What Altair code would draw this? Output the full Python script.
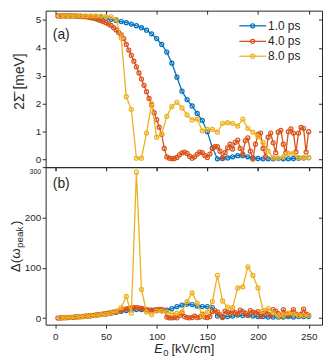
import altair as alt
import pandas as pd

# ---------------- data ----------------
E_STEP5 = [5 * i for i in range(1, 51)]          # 5 ... 250 kV/cm
E_STEP25 = [2.5 * i for i in range(1, 101)]      # 2.5 ... 250 kV/cm

SERIES_LABELS = ["1.0 ps", "4.0 ps", "8.0 ps"]
SERIES_COLORS = ["#0072BD", "#D95319", "#EDB120"]

# panel (a): 2*Sigma [meV]
GAP_1PS = [5.14, 5.14, 5.14, 5.14, 5.13, 5.12, 5.11, 5.10, 5.08, 5.06,
           5.02, 4.98, 4.94, 4.90, 4.85, 4.79, 4.72, 4.63, 4.50, 4.33,
           4.12, 3.85, 3.45, 2.95, 2.45, 2.15, 1.92, 1.65, 1.40, 1.00,
           0.42, 0.03, 0.04, 0.06, 0.10, 0.14, 0.14, 0.10, 0.06, 0.04,
           0.03, 0.03, 0.03, 0.04, 0.03, 0.03, 0.04, 0.05, 0.06, 0.07]

GAP_4PS = [5.14, 5.14, 5.14, 5.14, 5.14, 5.14, 5.14, 5.13, 5.13, 5.12,
           5.12, 5.11, 5.10, 5.08, 5.06, 5.04, 5.00, 4.97, 4.94, 4.90,
           4.85, 4.80, 4.72, 4.64, 4.55, 4.46, 4.33, 4.12, 3.92, 3.73,
           3.52, 3.32, 3.10, 2.88, 2.66, 2.43, 2.19, 1.95, 1.68, 1.43,
           1.16, 0.90, 0.40, 0.10, 0.05, 0.03, 0.04, 0.08, 0.17, 0.24,
           0.27, 0.22, 0.12, 0.05, 0.10, 0.20, 0.27, 0.25, 0.15, 0.08,
           0.20, 0.40, 0.46, 0.46, 0.30, 0.06, 0.25, 0.42, 0.55, 0.38,
           0.62, 0.70, 0.40, 0.20, 0.68, 0.78, 0.30, 0.02, 0.55, 0.90,
           0.95, 0.40, 0.10, 0.80, 0.95, 0.60, 0.25, 0.98, 1.05, 0.55,
           0.25, 1.00, 1.10, 0.95, 0.28, 0.95, 1.15, 1.12, 0.27, 1.00]

GAP_8PS = [5.14, 5.14, 5.14, 5.14, 5.14, 5.14, 5.14, 5.14, 5.13, 5.12,
           5.11, 5.02, 4.35, 2.25, 1.80, 0.05, 0.05, 0.95, 2.00, 0.80,
           0.92, 1.55, 1.90, 2.05, 1.85, 1.60, 1.42, 1.45, 1.03, 1.08,
           1.08, 0.98, 1.30, 1.32, 1.30, 1.20, 1.45, 1.12, 0.98, 0.82,
           0.62, 0.30, 0.06, 0.05, 0.10, 0.22, 0.22, 0.07, 0.07, 0.07]

# panel (b): Delta(omega_peak)
DW_1PS = [0.5, 1, 1.5, 2.2, 3, 3.8, 4.7, 5.7, 7, 8.3,
          9.8, 11.5, 13.5, 15, 16.5, 17, 17, 16.5, 16, 15.5,
          15, 16, 19, 23, 26, 28, 27, 24, 23, 23,
          21, 4, 3, 3, 4, 6, 5, 6, 4, 3,
          3, 2, 2, 2, 2, 3, 2, 3, 3, 3]

DW_4PS = [0.2, 0.4, 0.6, 0.8, 1.0, 1.3, 1.6, 2.0, 2.4, 2.8,
          3.2, 3.7, 4.2, 4.8, 5.4, 6.0, 6.7, 7.4, 8.2, 9.0,
          10, 11, 12, 13, 14.5, 16, 17.5, 18.5, 19.5, 20.5,
          21, 21, 20.5, 19.5, 18.5, 17, 16, 15.5, 16, 17,
          17.5, 17.5, 15, 2, 0.5, 0.5, 1, 0.5, 5, 10,
          3, 1, 0.5, 1, 4, 1, 2, 8, 2, 1,
          3, 13, 15, 12, 7, 1, 14, 12, 9, 14,
          11, 8, 16, 13, 10, 5, 15, 12, 10, 13,
          3, 9, 14, 8, 5, 17, 14, 9, 3, 17,
          8, 5, 10, 17, 8, 5, 8, 18, 8, 6]

DW_8PS = [0.5, 1, 1.5, 2, 2.8, 3.5, 4.5, 5.5, 6.8, 8,
          10, 14, 21, 43, 10, 290, 57, 12, 7, 14,
          14, 12, 9, 10, 13, 33, 50, 30, 6, 12,
          33, 85, 34, 22, 21, 60, 62, 102, 85, 60,
          15, 19, 11, 4, 6, 10, 8, 5, 5, 5]

X_TICKS = [0, 50, 100, 150, 200, 250]
YA_TICKS = [0, 1, 2, 3, 4, 5]
YB_TICKS = [0, 100, 200, 300]

TITLE_A = "2\u03a3\u0304 [meV]"
TITLE_B_MAIN = "\u0394(\u03c9"
TITLE_B_SUB = "peak"
TITLE_B_END = ")"
XTITLE_MAIN = "E"
XTITLE_SUB = "0"
XTITLE_END = "[kV/cm]"
PANEL_A = "(a)"
PANEL_B = "(b)"

# ---------------- style ----------------
FONT = "Liberation Sans"
INK = "#262626"
W = 279
HA = 158
HB = 159
XDOM = [-9.6, 263.2]
YA_DOM = [-0.27, 5.33]
YB_DOM = [-13, 300]
TICK = 3.5

xscale = alt.Scale(domain=XDOM, nice=False, zero=False)


def axis_left(values, top_value=None):
    kw = dict(values=values, title=None, domain=False, grid=False,
              ticks=True, tickSize=TICK, tickColor=INK, tickWidth=1,
              labelFont=FONT, labelColor=INK, labelPadding=1.5)
    if top_value is None:
        kw["labelFontSize"] = 10
    else:
        test = "datum.value == %s" % top_value
        kw["labelFontSize"] = {"condition": {"test": test, "value": 7}, "value": 10}
        kw["labelBaseline"] = {"condition": {"test": test, "value": "top"}, "value": "middle"}
    return alt.Axis(**kw)


def axis_bottom(values, labels):
    return alt.Axis(values=values, labels=labels, title=None, domain=False, grid=False,
                    ticks=True, tickSize=TICK, tickColor=INK, tickWidth=1,
                    labelFont=FONT, labelFontSize=10, labelColor=INK, labelPadding=3)


def axis_inner(values, orient):
    return alt.Axis(values=values, orient=orient, labels=False, title=None, domain=False,
                    grid=False, ticks=True, tickSize=TICK, tickColor=INK, tickWidth=1,
                    offset=-TICK)


def one_row():
    return pd.DataFrame({"k": [0]})


def panel(val_lists, e_lists, ydom, yticks, with_xlabels, top_value=None):
    yscale = alt.Scale(domain=ydom, nice=False, zero=False)
    layers = []
    first = True
    for vals, es, col in zip(val_lists, e_lists, SERIES_COLORS):
        df = pd.DataFrame({"E": es, "v": vals})
        xax = axis_bottom(X_TICKS, with_xlabels) if first else None
        yax = axis_left(yticks, top_value) if first else None
        first = False
        line = alt.Chart(df).mark_line(color=col, strokeWidth=1.3).encode(
            x=alt.X("E:Q", scale=xscale, axis=xax),
            y=alt.Y("v:Q", scale=yscale, axis=yax),
        )
        pts = alt.Chart(df).mark_point(shape="circle", filled=False, color=col,
                                       size=17, strokeWidth=1.2, opacity=1).encode(
            x=alt.X("E:Q", scale=xscale, axis=None),
            y=alt.Y("v:Q", scale=yscale, axis=None),
        )
        layers += [line, pts]
    # inward ticks on top and right (mirrored box ticks)
    dfa = pd.DataFrame({"E": [0], "v": [0]})
    inner = alt.Chart(dfa).mark_point(opacity=0).encode(
        x=alt.X("E:Q", scale=xscale, axis=axis_inner(X_TICKS, "top")),
        y=alt.Y("v:Q", scale=yscale, axis=axis_inner(yticks, "right")),
    )
    layers.append(inner)
    return layers


def txt(text, x, y, size=13, align="left", baseline="alphabetic", angle=0,
        style="normal", color=INK):
    kw = dict(text=text, font=FONT, fontSize=size, align=align, baseline=baseline,
              color=color, fontStyle=style)
    if angle:
        kw["angle"] = angle
    return alt.Chart(one_row()).mark_text(**kw).encode(x=alt.value(x), y=alt.value(y))


# ---------------- panel (a) ----------------
layers_a = panel([GAP_1PS, GAP_4PS, GAP_8PS], [E_STEP5, E_STEP25, E_STEP5],
                 YA_DOM, YA_TICKS, False)
layers_a.append(txt(TITLE_A, -22, 71.5, size=14, align="center", angle=270))
layers_a.append(txt(PANEL_A, 7.2, 29, size=14))
# legend (drawn inside the plot, upper right)
LEG_X0, LEG_X1, LEG_TX = 195.5, 222.5, 224.5
LEG_Y = [15.3, 31.0, 46.0]
for lab, col, ly in zip(SERIES_LABELS, SERIES_COLORS, LEG_Y):
    d = one_row()
    layers_a.append(alt.Chart(d).mark_rule(color=col, strokeWidth=1.3).encode(
        x=alt.value(LEG_X0), x2=alt.value(LEG_X1), y=alt.value(ly)))
    layers_a.append(alt.Chart(d).mark_point(shape="circle", filled=False, color=col,
                                            size=17, strokeWidth=1.2, opacity=1).encode(
        x=alt.value((LEG_X0 + LEG_X1) / 2), y=alt.value(ly)))
    layers_a.append(txt(lab, LEG_TX, ly, size=12, baseline="middle"))

chart_a = alt.layer(*layers_a).resolve_axis(x="independent", y="independent").properties(
    width=W, height=HA)

# ---------------- panel (b) ----------------
layers_b = panel([DW_1PS, DW_4PS, DW_8PS], [E_STEP5, E_STEP25, E_STEP5],
                 YB_DOM, YB_TICKS, True, top_value=300)
YB_ANCH = 82
layers_b.append(txt(TITLE_B_MAIN, -26.2, YB_ANCH, size=13.5, align="right", angle=270))
layers_b.append(txt(TITLE_B_SUB, -23.0, YB_ANCH - 0.5, size=10, align="left", angle=270))
layers_b.append(txt(TITLE_B_END, -26.2, YB_ANCH - 23.5, size=13.5, align="left", angle=270))
layers_b.append(txt(XTITLE_MAIN, 118.2, HB + 28.6, size=13, align="right", style="italic"))
layers_b.append(txt(XTITLE_SUB, 118.8, HB + 31.6, size=9.5, align="left"))
layers_b.append(txt(XTITLE_END, 127.0, HB + 28.6, size=13, align="left"))
layers_b.append(txt(PANEL_B, 7.2, 20.9, size=14))

chart_b = alt.layer(*layers_b).resolve_axis(x="independent", y="independent").properties(
    width=W, height=HB)

chart = alt.vconcat(chart_a, chart_b, spacing=0, bounds="flush").properties(
    padding={"left": 0, "top": 0, "right": 0, "bottom": 0},
    background="white",
).configure_view(stroke=INK, strokeWidth=1)

chart.save("out.html", embed_options={"renderer": "svg", "actions": False})
